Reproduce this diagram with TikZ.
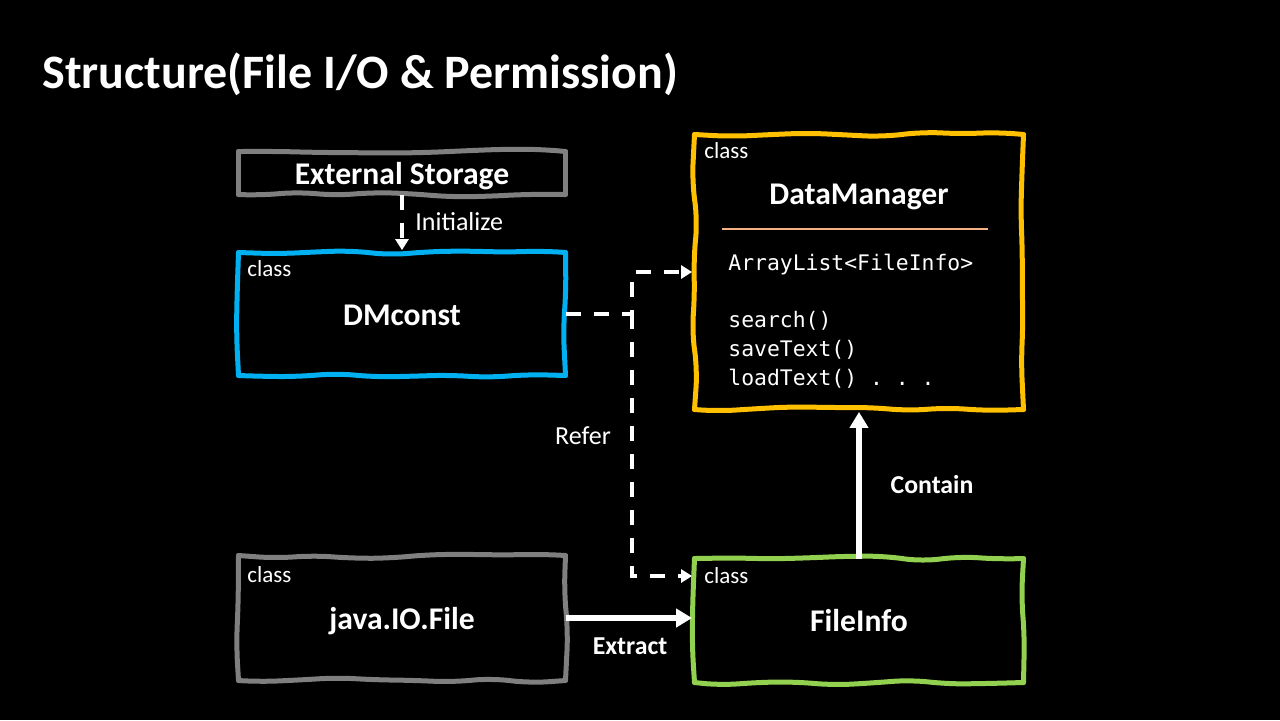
\documentclass[tikz,border=0pt]{standalone}
\usepackage{fontspec}
\setmainfont{Carlito}
\setmonofont{DejaVu Sans Mono}
\usetikzlibrary{arrows.meta,decorations.pathmorphing}
\definecolor{boxgray}{HTML}{7F7F7F}
\definecolor{boxblue}{HTML}{00B0F0}
\definecolor{boxorange}{HTML}{FFC000}
\definecolor{boxgreen}{HTML}{92D050}
\definecolor{rulepeach}{HTML}{F4B183}
\tikzstyle{box}=[rectangle, outer sep=0pt, minimum width=163.5pt, inner sep=0pt, text=white, text height=11pt, text depth=0pt, font=\bfseries\fontsize{15.8}{19}\selectfont]
\tikzstyle{wobble}=[line width=2.5pt, line cap=round, line join=round, decorate, decoration={random steps,segment length=19pt,amplitude=1.5pt}, rounded corners=9pt]
\tikzstyle{classtag}=[anchor=west, inner sep=0pt, text=white, font=\fontsize{11.5}{13}\selectfont]
\tikzstyle{member}=[anchor=west, inner sep=0pt, text=white, font=\ttfamily\fontsize{10.7}{13}\selectfont]
\tikzstyle{lbl}=[inner sep=0pt, text=white, font=\fontsize{13}{15}\selectfont]
\tikzstyle{boldlbl}=[lbl, font=\bfseries\fontsize{12.9}{15}\selectfont]
\tikzstyle{dashedge}=[draw=white, line width=2pt, dash pattern=on 7.5pt off 6.5pt, shorten >=1.2pt, -{Triangle[length=5.5pt,width=6.5pt]}]
\tikzstyle{solidedge}=[draw=white, line width=3pt, shorten >=1.2pt, -{Triangle[length=8pt,width=9pt]}]
\pgfmathsetseed{11}

\begin{document}
\begin{tikzpicture}[x=0.5pt, y=-0.5pt]
    % Black slide and its title
    \fill[black] (0,0) rectangle (1280,720);
    \useasboundingbox (0,0) rectangle (1280,720);
    \node[anchor=base west, inner sep=0pt, text=white, font=\bfseries\fontsize{24}{29}\selectfont] (title) at (42,88) {Structure(File I/O \& Permission)};

    % First we place the class boxes
    \node[box, minimum height=21.5pt] (storage) at (402,173) {External Storage};
    \node[box, minimum height=61.5pt] (dmconst) at (402,314) {DMconst};
    \node[box, minimum width=164.5pt, minimum height=137.5pt] (datamgr) at (859,272) {};
    \node[box, minimum height=62.5pt] (javafile) at (402,618) {java.IO.File};
    \node[box, minimum width=164.5pt, minimum height=62pt] (fileinfo) at (859,620.5) {FileInfo};

    % Then their hand drawn borders, side by side
    \foreach \name/\col in {storage/boxgray, dmconst/boxblue, datamgr/boxorange, javafile/boxgray, fileinfo/boxgreen}
        \foreach \from/\to in {north west/north east, north east/south east, south east/south west, south west/north west}
            \draw[wobble, draw=\col] (\name.\from) -- (\name.\to);

    \foreach \pos/\name in {{(247,269)/dmtag}, {(704,151)/mgrtag}, {(247,575)/filetag}, {(704,576)/infotag}}
        \node[classtag] (\name) at \pos {class};

    % Members of DataManager
    \node[inner sep=0pt, text=white, font=\bfseries\fontsize{15.8}{19}\selectfont] (mgrname) at (859,197) {DataManager};
    \draw[rulepeach, line width=0.6pt] (722,229) -- (988,229);
    \foreach \txt/\yy [count=\i] in {{ArrayList<FileInfo>}/265, {search()}/321, {saveText()}/350, {loadText() . . .}/379}
        \node[member] (member\i) at (728,\yy) {\txt};

    % Connect boxes with edges
    \coordinate (split) at (632,314);
    \path[dashedge] (storage.south) -- (dmconst.north);
    \path[dashedge] (dmconst.east) -- (split) |- (datamgr.west);
    \path[dashedge] (split) |- ([yshift=22.25pt]fileinfo.west);
    \path[solidedge] (javafile.east) -- (javafile.east -| fileinfo.west);
    \path[solidedge] (fileinfo.north) -- (datamgr.south);

    \node[lbl, anchor=west] (initialize) at (415,222) {Initialize};
    \node[lbl] (refer) at (583,436) {Refer};
    \node[boldlbl] (extract) at (630,646) {Extract};
    \node[boldlbl] (contain) at (932,485) {Contain};
\end{tikzpicture}
\end{document}
